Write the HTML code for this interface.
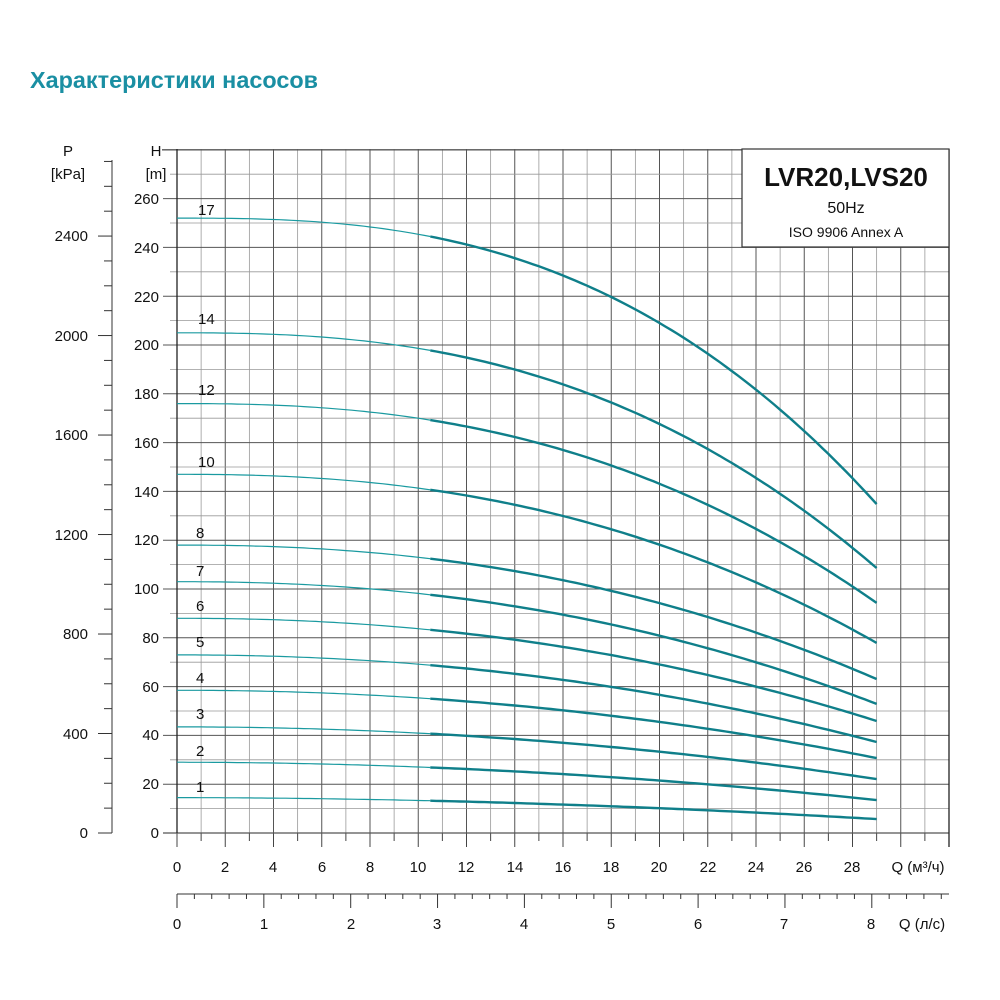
<!DOCTYPE html>
<html><head><meta charset="utf-8"><style>
html,body{margin:0;padding:0;background:#fff;}
svg{display:block;font-family:"Liberation Sans","DejaVu Sans",sans-serif;}
</style></head><body>
<svg id="s" width="1000" height="1000" viewBox="0 0 1000 1000" xmlns="http://www.w3.org/2000/svg">
<rect width="1000" height="1000" fill="#fff"/>
<text x="30" y="88" font-size="23" font-weight="bold" fill="#1a8fa3" textLength="288" lengthAdjust="spacingAndGlyphs">Характеристики насосов</text>
<g id="grid"></g>
<g id="curves"></g>
<rect x="742" y="149" width="207" height="98" fill="#fff" stroke="#333" stroke-width="1.2"/>
<text x="846" y="186" font-size="26" font-weight="bold" text-anchor="middle" fill="#111">LVR20,LVS20</text>
<text x="846" y="213" font-size="16" text-anchor="middle" fill="#111">50Hz</text>
<text x="846" y="237" font-size="14" text-anchor="middle" fill="#111">ISO 9906 Annex A</text>
<g font-size="15" fill="#111" text-anchor="end">
<text x="156" y="156" text-anchor="middle">H</text>
<text x="156" y="179" text-anchor="middle">[m]</text>
<text x="68" y="156" text-anchor="middle">P</text>
<text x="68" y="179" text-anchor="middle">[kPa]</text>
<text x="159" y="204">260</text><text x="159" y="253">240</text><text x="159" y="302">220</text>
<text x="159" y="350">200</text><text x="159" y="399">180</text><text x="159" y="448">160</text>
<text x="159" y="497">140</text><text x="159" y="545">120</text><text x="159" y="594">100</text>
<text x="159" y="643">80</text><text x="159" y="692">60</text><text x="159" y="740">40</text>
<text x="159" y="789">20</text><text x="159" y="838">0</text>
<text x="88" y="241">2400</text><text x="88" y="341">2000</text><text x="88" y="440">1600</text>
<text x="88" y="540">1200</text><text x="88" y="639">800</text><text x="88" y="739">400</text>
<text x="88" y="838">0</text>
</g>
<g font-size="15" fill="#111" text-anchor="middle">
<text x="177" y="872">0</text><text x="225" y="872">2</text><text x="273" y="872">4</text>
<text x="322" y="872">6</text><text x="370" y="872">8</text><text x="418" y="872">10</text>
<text x="466" y="872">12</text><text x="515" y="872">14</text><text x="563" y="872">16</text>
<text x="611" y="872">18</text><text x="659" y="872">20</text><text x="708" y="872">22</text>
<text x="756" y="872">24</text><text x="804" y="872">26</text><text x="852" y="872">28</text>
<text x="918" y="872">Q (м³/ч)</text>
<text x="177" y="929">0</text><text x="264" y="929">1</text><text x="351" y="929">2</text>
<text x="437" y="929">3</text><text x="524" y="929">4</text><text x="611" y="929">5</text>
<text x="698" y="929">6</text><text x="784" y="929">7</text><text x="871" y="929">8</text>
<text x="922" y="929">Q (л/с)</text>
</g>
<g font-size="15" fill="#111">
<text x="198" y="215">17</text><text x="198" y="324">14</text><text x="198" y="395">12</text>
<text x="198" y="467">10</text><text x="196" y="538">8</text><text x="196" y="576">7</text>
<text x="196" y="611">6</text><text x="196" y="647">5</text><text x="196" y="683">4</text>
<text x="196" y="719">3</text><text x="196" y="756">2</text><text x="196" y="792">1</text>
</g>
</svg>
<script>
var NS="http://www.w3.org/2000/svg";
function L(g,x1,y1,x2,y2,c,w){var e=document.createElementNS(NS,"line");e.setAttribute("x1",x1);e.setAttribute("y1",y1);e.setAttribute("x2",x2);e.setAttribute("y2",y2);e.setAttribute("stroke",c);e.setAttribute("stroke-width",w);g.appendChild(e);}
var g=document.getElementById("grid");
var X0=177,U=24.125,Y0=833,V=2.44;
for(var i=0;i<=32;i++){var x=X0+i*U;L(g,x,149,x,833,i%2?"#999":"#555",i%2?0.8:1);L(g,x,833,x,i%2?841:847,"#444",1);}
for(var j=0;j<=28;j++){var y=Y0-j*10*V;L(g,j==28?162:(j%2?170:163),y,949,y,j%2?"#999":"#555",j==0||j==28?1.3:(j%2?0.8:1));}
L(g,177,149,177,833,"#222",1.3);L(g,949,149,949,847,"#222",1.3);
L(g,112,160,112,833,"#333",1);
for(var k=0;k<=27;k++){var y=Y0-k*100/9.81*V;L(g,k%4==0?98:104,y,112,y,"#333",1);}
L(g,177,894,949,894,"#333",1);
var S=3.6*U/5;for(var m=0;m*S<=773;m++){var x=X0+m*S;L(g,x,894,x,m%5==0?908:899,"#333",1);}
var C=[[17,252,134.8],[14,205,108.6],[12,176,94.3],[10,147,77.9],[8,118,63.1],[7,103,52.9],[6,88,45.9],[5,73,37.3],[4,58.5,30.7],[3,43.5,22.1],[2,29,13.5],[1,14.5,5.7]];
var cg=document.getElementById("curves");
C.forEach(function(c){
 var kk=1.9+0.05*(c[0]-1);
 function pts(a,b){var s="";for(var q=a;q<=b+1e-6;q+=0.25){var H=c[1]-(c[1]-c[2])*Math.pow(q/29,kk);s+=(s?" L":"M")+(X0+q*U).toFixed(1)+","+(Y0-H*V).toFixed(1);}return s;}
 var p1=document.createElementNS(NS,"path");p1.setAttribute("d",pts(0,10.5));p1.setAttribute("fill","none");p1.setAttribute("stroke","#1a9aa0");p1.setAttribute("stroke-width","1.2");cg.appendChild(p1);
 var p2=document.createElementNS(NS,"path");p2.setAttribute("d",pts(10.5,29));p2.setAttribute("fill","none");p2.setAttribute("stroke","#0f7f8a");p2.setAttribute("stroke-width","2.4");cg.appendChild(p2);
});
</script>
</body></html>
